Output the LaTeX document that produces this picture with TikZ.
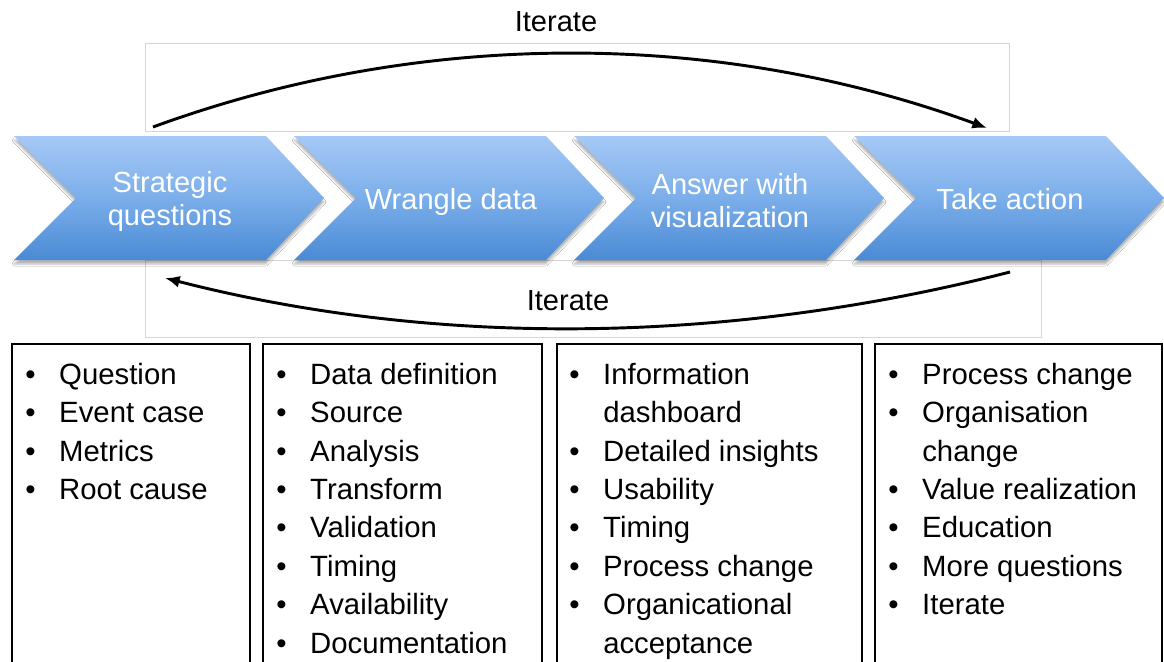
\documentclass[tikz,border=0pt]{standalone}
\usepackage{fontspec}
\setmainfont{Liberation Sans}
\usetikzlibrary{arrows.meta,shadows.blur}
\definecolor{chtop}{HTML}{A6C9F6}
\definecolor{chmid}{HTML}{7BAEEA}
\definecolor{chbot}{HTML}{4A8AD4}
\definecolor{rectgray}{HTML}{D6D6D6}
\newlength\pxu
\setlength\pxu{0.75pt}
\newcommand{\bl}{\makebox[34\pxu][l]{\textbullet}}
\newcommand{\cont}{\hspace*{34\pxu}}
\tikzset{
  chevron/.style={top color=chtop, bottom color=chbot, middle color=chmid, draw=none,
    blur shadow={shadow xshift=0pt, shadow yshift=-3pt, shadow blur radius=1.5pt, shadow opacity=30}},
  chtext/.style={text=white, align=center, inner sep=0pt,
    font=\fontsize{21.8pt}{24.75pt}\selectfont},
  listbox/.style={draw=black, line width=1.8pt},
  listtxt/.style={anchor=north west, align=left, inner sep=0pt,
    font=\fontsize{22pt}{28.8pt}\selectfont},
  arcbox/.style={draw=rectgray, line width=0.6pt},
  iter/.style={draw=black, line width=2.2pt, -{Latex[length=11pt,width=9pt]}},
  itertext/.style={inner sep=0pt, font=\fontsize{21.8pt}{24pt}\selectfont}
}
\begin{document}
\begin{tikzpicture}[x=0.75pt,y=-0.75pt]
\useasboundingbox (0,0) rectangle (1164,661);
\clip (0,0) rectangle (1164,661);
\fill[white] (0,0) rectangle (1164,661);

% light frames around the arcs
\draw[arcbox] (145,43) rectangle (1009,131);
\draw[arcbox] (145,260) rectangle (1041,337);

% chevrons
\foreach \L in {14,294,574,854}{
  \path[chevron] (\L,136) -- (\L+252,136) -- (\L+310,198) -- (\L+252,260)
    -- (\L,260) -- (\L+62,198) -- cycle;
}
\node[chtext] (c1) at (170,201) {Strategic\\questions};
\node[chtext] (c2) at (451,202) {Wrangle data};
\node[chtext] (c3) at (730,201) {Answer with\\visualization};
\node[chtext] (c4) at (1010,199) {Take action};

% iterate arcs
\coordinate (t1) at (153,127);
\coordinate (t2) at (987,128);
\coordinate (b1) at (1010,272);
\coordinate (b2) at (165,278);
\draw[iter] (t1) .. controls (422,28.5) and (718,29.5) .. (t2);
\draw[iter] (b1) .. controls (733,343) and (442,349) .. (b2);
\node[itertext] (it1) at (556,22) {Iterate};
\node[itertext] (it2) at (568,301) {Iterate};

% lists
\draw[listbox] (12,344) rectangle (250,690);
\draw[listbox] (263,344) rectangle (542,690);
\draw[listbox] (557,344) rectangle (862,690);
\draw[listbox] (875,344) rectangle (1162,690);

\node[listtxt] (l1) at (25,357.3) {\rule{0pt}{20pt}\bl Question\\\bl Event case\\\bl Metrics\\\bl Root cause};
\node[listtxt] (l2) at (276,357.3) {\rule{0pt}{20pt}\bl Data definition\\\bl Source\\\bl Analysis\\\bl Transform\\\bl Validation\\\bl Timing\\\bl Availability\\\bl Documentation};
\node[listtxt] (l3) at (569,357.3) {\rule{0pt}{20pt}\bl Information\\\cont dashboard\\\bl Detailed insights\\\bl Usability\\\bl Timing\\\bl Process change\\\bl Organicational\\\cont acceptance};
\node[listtxt] (l4) at (888,357.3) {\rule{0pt}{20pt}\bl Process change\\\bl Organisation\\\cont change\\\bl Value realization\\\bl Education\\\bl More questions\\\bl Iterate};
\end{tikzpicture}
\end{document}
